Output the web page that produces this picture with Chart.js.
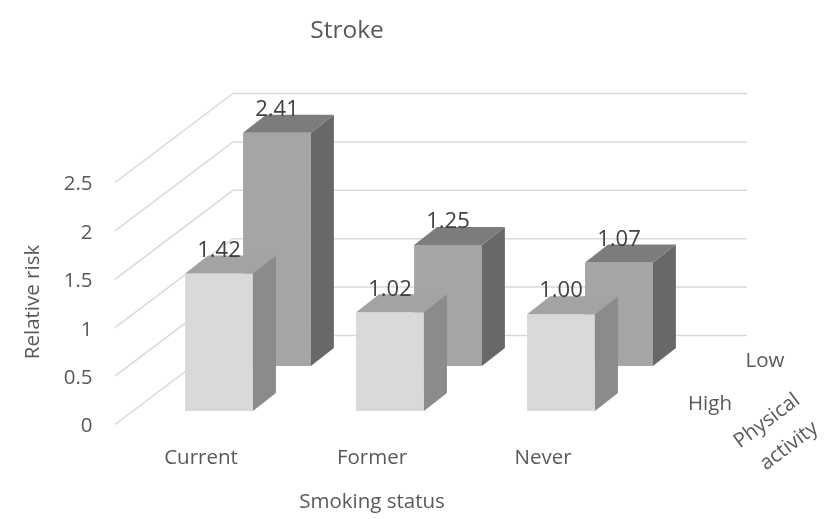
<!DOCTYPE html>
<html>
<head>
<meta charset="utf-8">
<title>Stroke</title>
<script src="https://cdn.jsdelivr.net/npm/chart.js@4/dist/chart.umd.min.js"></script>
<style>
  body { margin: 0; background: #fff; }
  canvas { display: block; }
</style>
</head>
<body>
<canvas id="chart" width="825" height="519"></canvas>
<script>
// values
const categories = ['Current', 'Former', 'Never'];
const highActivity = [1.42, 1.02, 1.00];
const lowActivity = [2.41, 1.25, 1.07];
const riskTicks = [0, 0.5, 1, 1.5, 2, 2.5];

const FONT = '"Open Sans", sans-serif';
const TEXT = '#595959';

// fake perspective, Excel style 3D column
const BAR_DEPTH = { dx: 23, dy: 18 };
const WALL_DEPTH = { dx: 118, dy: 89 };
const WALL_RIGHT = 747;
const WALL_NUDGE = 2; // tick labels sit a little below their wall lines

const faceColors = [
  { side: '#8b8b8b', top: '#a3a3a3' },
  { side: '#686868', top: '#7c7c7c' }
];

// the walls, drawn behind the bars from the risk axis
const wallPlugin = {
  id: 'walls',
  beforeDatasetsDraw(chart) {
    const { ctx, scales } = chart;
    const x0 = 115;
    ctx.save();
    ctx.strokeStyle = '#d9d9d9';
    ctx.lineWidth = 1.5;
    riskTicks.forEach(v => {
      const y = scales.yWall.getPixelForValue(v) - WALL_NUDGE;
      ctx.beginPath();
      ctx.moveTo(x0, y);
      ctx.lineTo(x0 + WALL_DEPTH.dx, y - WALL_DEPTH.dy);
      ctx.lineTo(WALL_RIGHT, y - WALL_DEPTH.dy);
      ctx.stroke();
    });
    ctx.restore();
  }
};

// side and top faces for each bar; runs per dataset so the front row covers the back row
const facesPlugin = {
  id: 'faces',
  afterDatasetDraw(chart, args) {
    const { ctx } = chart;
    const colors = faceColors[args.index];
    const { dx, dy } = BAR_DEPTH;
    args.meta.data.forEach(bar => {
      const { x, y, base, width } = bar.getProps(['x', 'y', 'base', 'width'], true);
      const l = x - width / 2;
      const r = x + width / 2;
      ctx.fillStyle = colors.side;
      ctx.beginPath();
      ctx.moveTo(r, y);
      ctx.lineTo(r + dx, y - dy);
      ctx.lineTo(r + dx, base - dy);
      ctx.lineTo(r, base);
      ctx.closePath();
      ctx.fill();
      ctx.fillStyle = colors.top;
      ctx.beginPath();
      ctx.moveTo(l, y);
      ctx.lineTo(l + dx, y - dy);
      ctx.lineTo(r + dx, y - dy);
      ctx.lineTo(r, y);
      ctx.closePath();
      ctx.fill();
    });
  }
};

function text(ctx, str, x, y, size, color, angle) {
  ctx.save();
  ctx.translate(x, y);
  if (angle) ctx.rotate(angle);
  ctx.font = size + 'px ' + FONT;
  ctx.fillStyle = color;
  ctx.textAlign = 'center';
  ctx.textBaseline = 'middle';
  ctx.fillText(str, 0, 0);
  ctx.restore();
}

const labelsPlugin = {
  id: 'labels',
  afterDatasetsDraw(chart) {
    const { ctx } = chart;
    chart.data.datasets.forEach((ds, i) => {
      chart.getDatasetMeta(i).data.forEach((bar, j) => {
        const { x, y } = bar.getProps(['x', 'y'], true);
        text(ctx, ds.data[j].toFixed(2), x, y - 23, 22, '#404040');
      });
    });
  },
  afterDraw(chart) {
    const { ctx } = chart;
    const tilt = -37 * Math.PI / 180;
    text(ctx, 'Stroke', 347, 31, 24.5, TEXT);
    text(ctx, 'Smoking status', 372, 502, 20.5, TEXT);
    text(ctx, 'Relative risk', 33, 302, 20.5, TEXT, -Math.PI / 2);
    text(ctx, chart.data.datasets[1].label, 765, 361, 20.5, TEXT);
    text(ctx, chart.data.datasets[0].label, 710, 404, 20.5, TEXT);
    text(ctx, 'Physical', 767, 421, 20.5, TEXT, tilt);
    text(ctx, 'activity', 789, 446, 20.5, TEXT, tilt);
  }
};

new Chart(document.getElementById('chart'), {
  type: 'bar',
  data: {
    labels: categories,
    datasets: [
      { label: 'High', data: highActivity, yAxisID: 'yFront', backgroundColor: '#d9d9d9', borderWidth: 0 },
      { label: 'Low', data: lowActivity, yAxisID: 'yBack', backgroundColor: '#a5a5a5', borderWidth: 0 }
    ]
  },
  options: {
    responsive: false,
    animation: false,
    layout: { padding: { top: 93.5, right: 149.5, left: 0, bottom: 0 } },
    datasets: { bar: { categoryPercentage: 0.678, barPercentage: 1.17 } },
    plugins: { legend: { display: false }, title: { display: false }, tooltip: { enabled: false } },
    scales: {
      x: {
        grid: { display: false, drawTicks: false },
        border: { display: false },
        afterFit(scale) { scale.height = 92.5; },
        ticks: { padding: 19, labelOffset: -47, maxRotation: 0, color: TEXT, font: { family: FONT, size: 20.5 } }
      },
      yWall: {
        position: 'left',
        min: 0,
        max: 3.44,
        grid: { display: false, drawTicks: false },
        border: { display: false },
        afterBuildTicks(scale) { scale.ticks = riskTicks.map(value => ({ value })); },
        afterFit(scale) { scale.width = 162.5; },
        ticks: { padding: 70, color: TEXT, font: { family: FONT, size: 20.5 }, callback: v => String(v) }
      },
      // same px per unit as yWall, just slid along the depth axis
      yFront: { display: false, min: -0.16, max: 3.28 },
      yBack: { display: false, min: -0.625, max: 2.815 }
    }
  },
  plugins: [wallPlugin, facesPlugin, labelsPlugin]
});
</script>
</body>
</html>
